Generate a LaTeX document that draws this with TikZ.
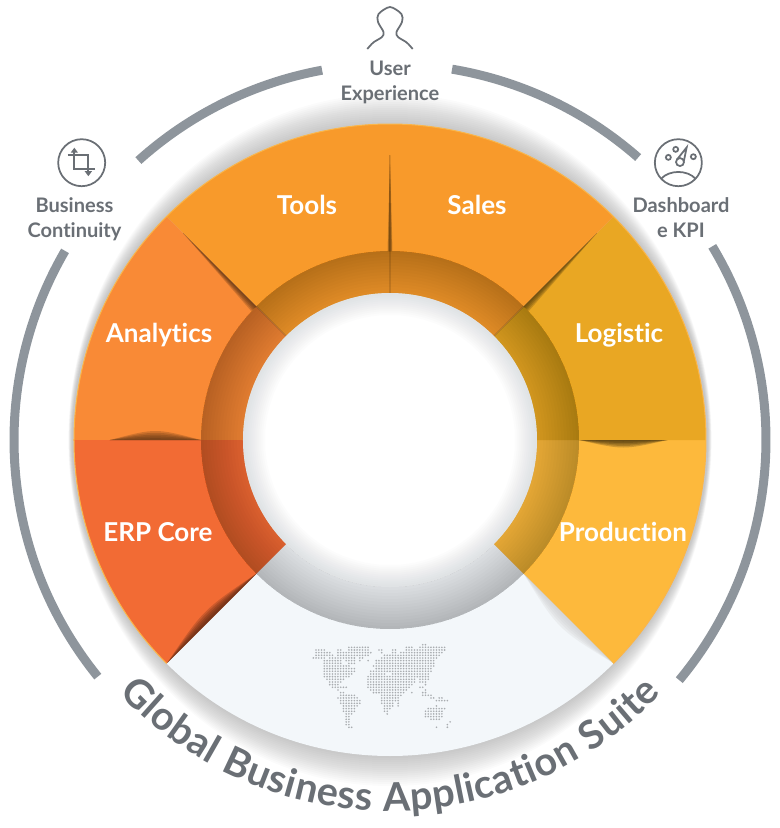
\documentclass[tikz,border=0pt]{standalone}
\usepackage{fontspec}
\setmainfont{Lato}[Ligatures=NoCommon]
\usetikzlibrary{arrows.meta,decorations.text}

\definecolor{toolsorange}{HTML}{F89A2B}
\definecolor{analyticsorange}{HTML}{F98A36}
\definecolor{erpred}{HTML}{F26B34}
\definecolor{logisticgold}{HTML}{E9A723}
\definecolor{productionyellow}{HTML}{FDB93C}
\definecolor{suitepale}{HTML}{F3F7FA}
\definecolor{rimgray}{HTML}{8E959C}
\definecolor{rimlight}{HTML}{FBB548}
\definecolor{holeedge}{HTML}{AEB5BC}
\definecolor{labelgray}{HTML}{6A6F75}
\definecolor{dotgray}{HTML}{A9ACB0}

% Lens shadow along a wedge boundary: angle, from, to, bulge, colour
\newcommand{\seam}[6][.4]{%
  \foreach \k in {1,.8,.6,.4,.2} {
    \fill[#6, opacity=.22, rotate=#2] (#3,0)
      .. controls ({#3+#1*(#4-#3)},{#5*\k}) .. (#4,0) -- cycle;
  }%
}
% Same, widest at its inner end
\newcommand{\taper}[5]{%
  \foreach \k in {1,.8,.6,.4,.2} {
    \fill[#5, opacity=.22, rotate=#1] (#2,0) -- (#2,{#4*\k}) -- (#3,0) -- cycle;
  }%
}

\tikzset{
  wedgelabel/.style={text=white, font=\fontsize{14.8}{17}\selectfont\bfseries},
  rimlabel/.style={text=labelgray, align=center, font=\fontsize{11.4}{14.2}\selectfont\bfseries},
  iconring/.style={draw=labelgray, circle, line width=.035cm, minimum size=.94cm, inner sep=0pt},
  iconline/.style={draw=labelgray, line width=.035cm},
  rimarc/.style={draw=rimgray, line width=.18cm}
}

\begin{document}
\begin{tikzpicture}[>=Stealth]
  \useasboundingbox (-7.8,-7.76) rectangle (7.8,8.8);

  % Glow
  \foreach \g in {0,.04,...,.6} {
    \fill[black, opacity=.015] (0,0) ellipse [x radius={6.36+.12*\g}, y radius={6.32+\g}];
  }

  % Outer rim arcs
  \foreach \a/\b in {100.4/132, 80.5/48.7, 31/-39.7, 149.8/219} {
    \draw[rimarc] (\a:7.52) arc[start angle=\a, end angle=\b, radius=7.52];
  }

  % Wedges
  \foreach \s/\e/\c in {-135/-45/suitepale, -45/0/productionyellow, 0/45/logisticgold,
      45/90/toolsorange, 90/135/toolsorange, 135/180/analyticsorange, 180/225/erpred} {
    \fill[\c] (\s:6.32) arc[start angle=\s, end angle=\e, radius=6.32]
      -- (\e:2.8) arc[start angle=\e, end angle=\s, radius=2.8] -- cycle;
  }
  \draw[rimlight, line width=.02cm] (-45:6.32) arc[start angle=-45, end angle=225, radius=6.32];

  % Shadows along the boundaries
  \taper{90}{3.78}{5.7}{.05}{black!70!toolsorange}
  \taper{90}{3.78}{5.7}{-.05}{black!70!toolsorange}
  \taper{45}{3.78}{5.85}{-.14}{black!70!logisticgold}
  \taper{135}{3.78}{5.85}{.14}{black!70!analyticsorange}
  \seam[.5]{0}{3.78}{5.55}{-.2}{black!80!logisticgold}
  \seam[.5]{180}{3.78}{5.6}{-.24}{black!70!analyticsorange}
  \seam[.5]{-135}{3.78}{6.3}{-.24}{black!70!erpred}
  \seam[.5]{-45}{3.78}{6.3}{-.3}{black!20}

  % Darkened ring and hole
  \fill[black, opacity=.09, even odd rule] (0,0) circle (3.78) circle (2.9);
  \foreach \r in {2.94,3.0,...,3.72} {
    \fill[black, opacity=.012, even odd rule] (0,0) circle (3.78) circle (\r);
  }
  \foreach \a in {45,90,135} {
    \fill[black, opacity=.12, rotate=\a] (2.94,-.015) rectangle (3.78,.015);
  }
  \fill[white] (0,0) circle (2.94);
  \foreach \r in {2.5,2.54,...,2.92} {
    \fill[holeedge, opacity=.035, even odd rule] (0,0) circle (2.94) circle (\r);
  }

  % Wedge labels
  \node[wedgelabel] (tools) at (-1.66,4.70) {Tools};
  \node[wedgelabel] (sales) at (1.74,4.70) {Sales};
  \node[wedgelabel] (analytics) at (-4.62,2.10) {Analytics};
  \node[wedgelabel] (logistic) at (4.58,2.10) {Logistic};
  \node[wedgelabel] (erp) at (-4.64,-1.84) {ERP Core};
  \node[wedgelabel] (production) at (4.66,-1.84) {Production};

  % Rim labels
  \node[rimlabel] (user) at (0,7.16) {User\\Experience};
  \node[rimlabel] (continuity) at (-6.31,4.42) {Business\\Continuity};
  \node[rimlabel] (kpi) at (5.82,4.44) {Dashboard\\e KPI};

  % User icon
  \draw[iconline] plot[smooth] coordinates {(-.454,7.82) (-.334,7.95) (-.16,8.06) (-.13,8.16)
    (-.24,8.36) (-.23,8.52) (0,8.66) (.23,8.52) (.24,8.36) (.13,8.16) (.16,8.06) (.334,7.95) (.454,7.82)};

  % Crop icon
  \node[iconring] (crop) at (-6.166,5.546) {};
  \begin{scope}[shift={(crop.center)}]
    \draw[iconline, line width=.045cm, -{Triangle[width=.14cm,length=.1cm]}]
      (-.28,.16) -- (.133,.16) -- (.133,-.27);
    \draw[iconline, line width=.045cm, -{Triangle[width=.14cm,length=.1cm]}]
      (.267,-.133) -- (-.147,-.133) -- (-.147,.3);
  \end{scope}

  % Gauge icon
  \node[iconring] (gauge) at (5.767,5.546) {};
  \begin{scope}[shift={(gauge.center)}]
    \draw[iconline] (-137:.47) .. controls (-.18,-.14) and (.18,-.14) .. (-43:.47);
    \foreach \x/\y in {-.2/.107, -.053/.267, .3/.12} {
      \draw[iconline] (\x,\y) circle (.05);
    }
    \draw[iconline] (.033,.013) circle (.08);
    \draw[iconline] (-.03,.06) -- (.167,.307) -- (.11,.03);
  \end{scope}

  % Dotted world map
  \foreach \r/\spans in {0/{40/41}, 1/{13/20,34/36,39/48}, 2/{1/4,9/10,13/20,24/25,29/30,34/48},
      3/{1/6,9/21,25/25,29/30,32/47}, 4/{1/7,9/20,26/46}, 5/{0/4,6/15,17/18,25/45},
      6/{4/10,12/15,17/17,20/20,23/44}, 7/{4/10,13/15,23/44}, 8/{4/11,12/13,22/44},
      9/{4/15,23/43}, 10/{4/15,21/43}, 11/{4/14,21/26,29/42}, 12/{4/13,20/42},
      13/{5/11,20/37,39/42}, 14/{6/10,20/37,39/41}, 15/{6/9,20/36,41/41},
      16/{7/9,10/12,20/35,39/40}, 17/{9/9,21/34,41/41}, 18/{10/11,22/33,36/36,40/41},
      19/{10/15,25/32,40/43}, 20/{9/16,25/31,43/44,46/47}, 21/{10/17,25/31,45/49},
      22/{10/17,25/29,31/31}, 23/{11/16,26/29,31/31,45/45}, 24/{11/15,26/28,42/48},
      25/{11/15,26/27,41/47}, 26/{12/14,27/27,41/47}, 27/{12/13,41/47},
      28/{12/13,43/44,45/46}, 29/{12/13,50/50}, 30/{12/13,49/49}, 31/{13/14,45/45,49/49}} {
    \foreach \a/\b in \spans {
      \foreach \c in {\a,...,\b} {
        \fill[dotgray] ({-1.533+.0547*\c},{-4.093-.0533*\r}) circle (.018);
      }
    }
  }

  % Curved title
  \path[decorate, decoration={text along path, text align=fit to path,
      text={|\fontsize{22.5}{26}\selectfont\bfseries\color{labelgray}|Global Business Application Suite}}]
    (-137:7.42) arc[start angle=-137, end angle=-43, radius=7.42];
\end{tikzpicture}
\end{document}
